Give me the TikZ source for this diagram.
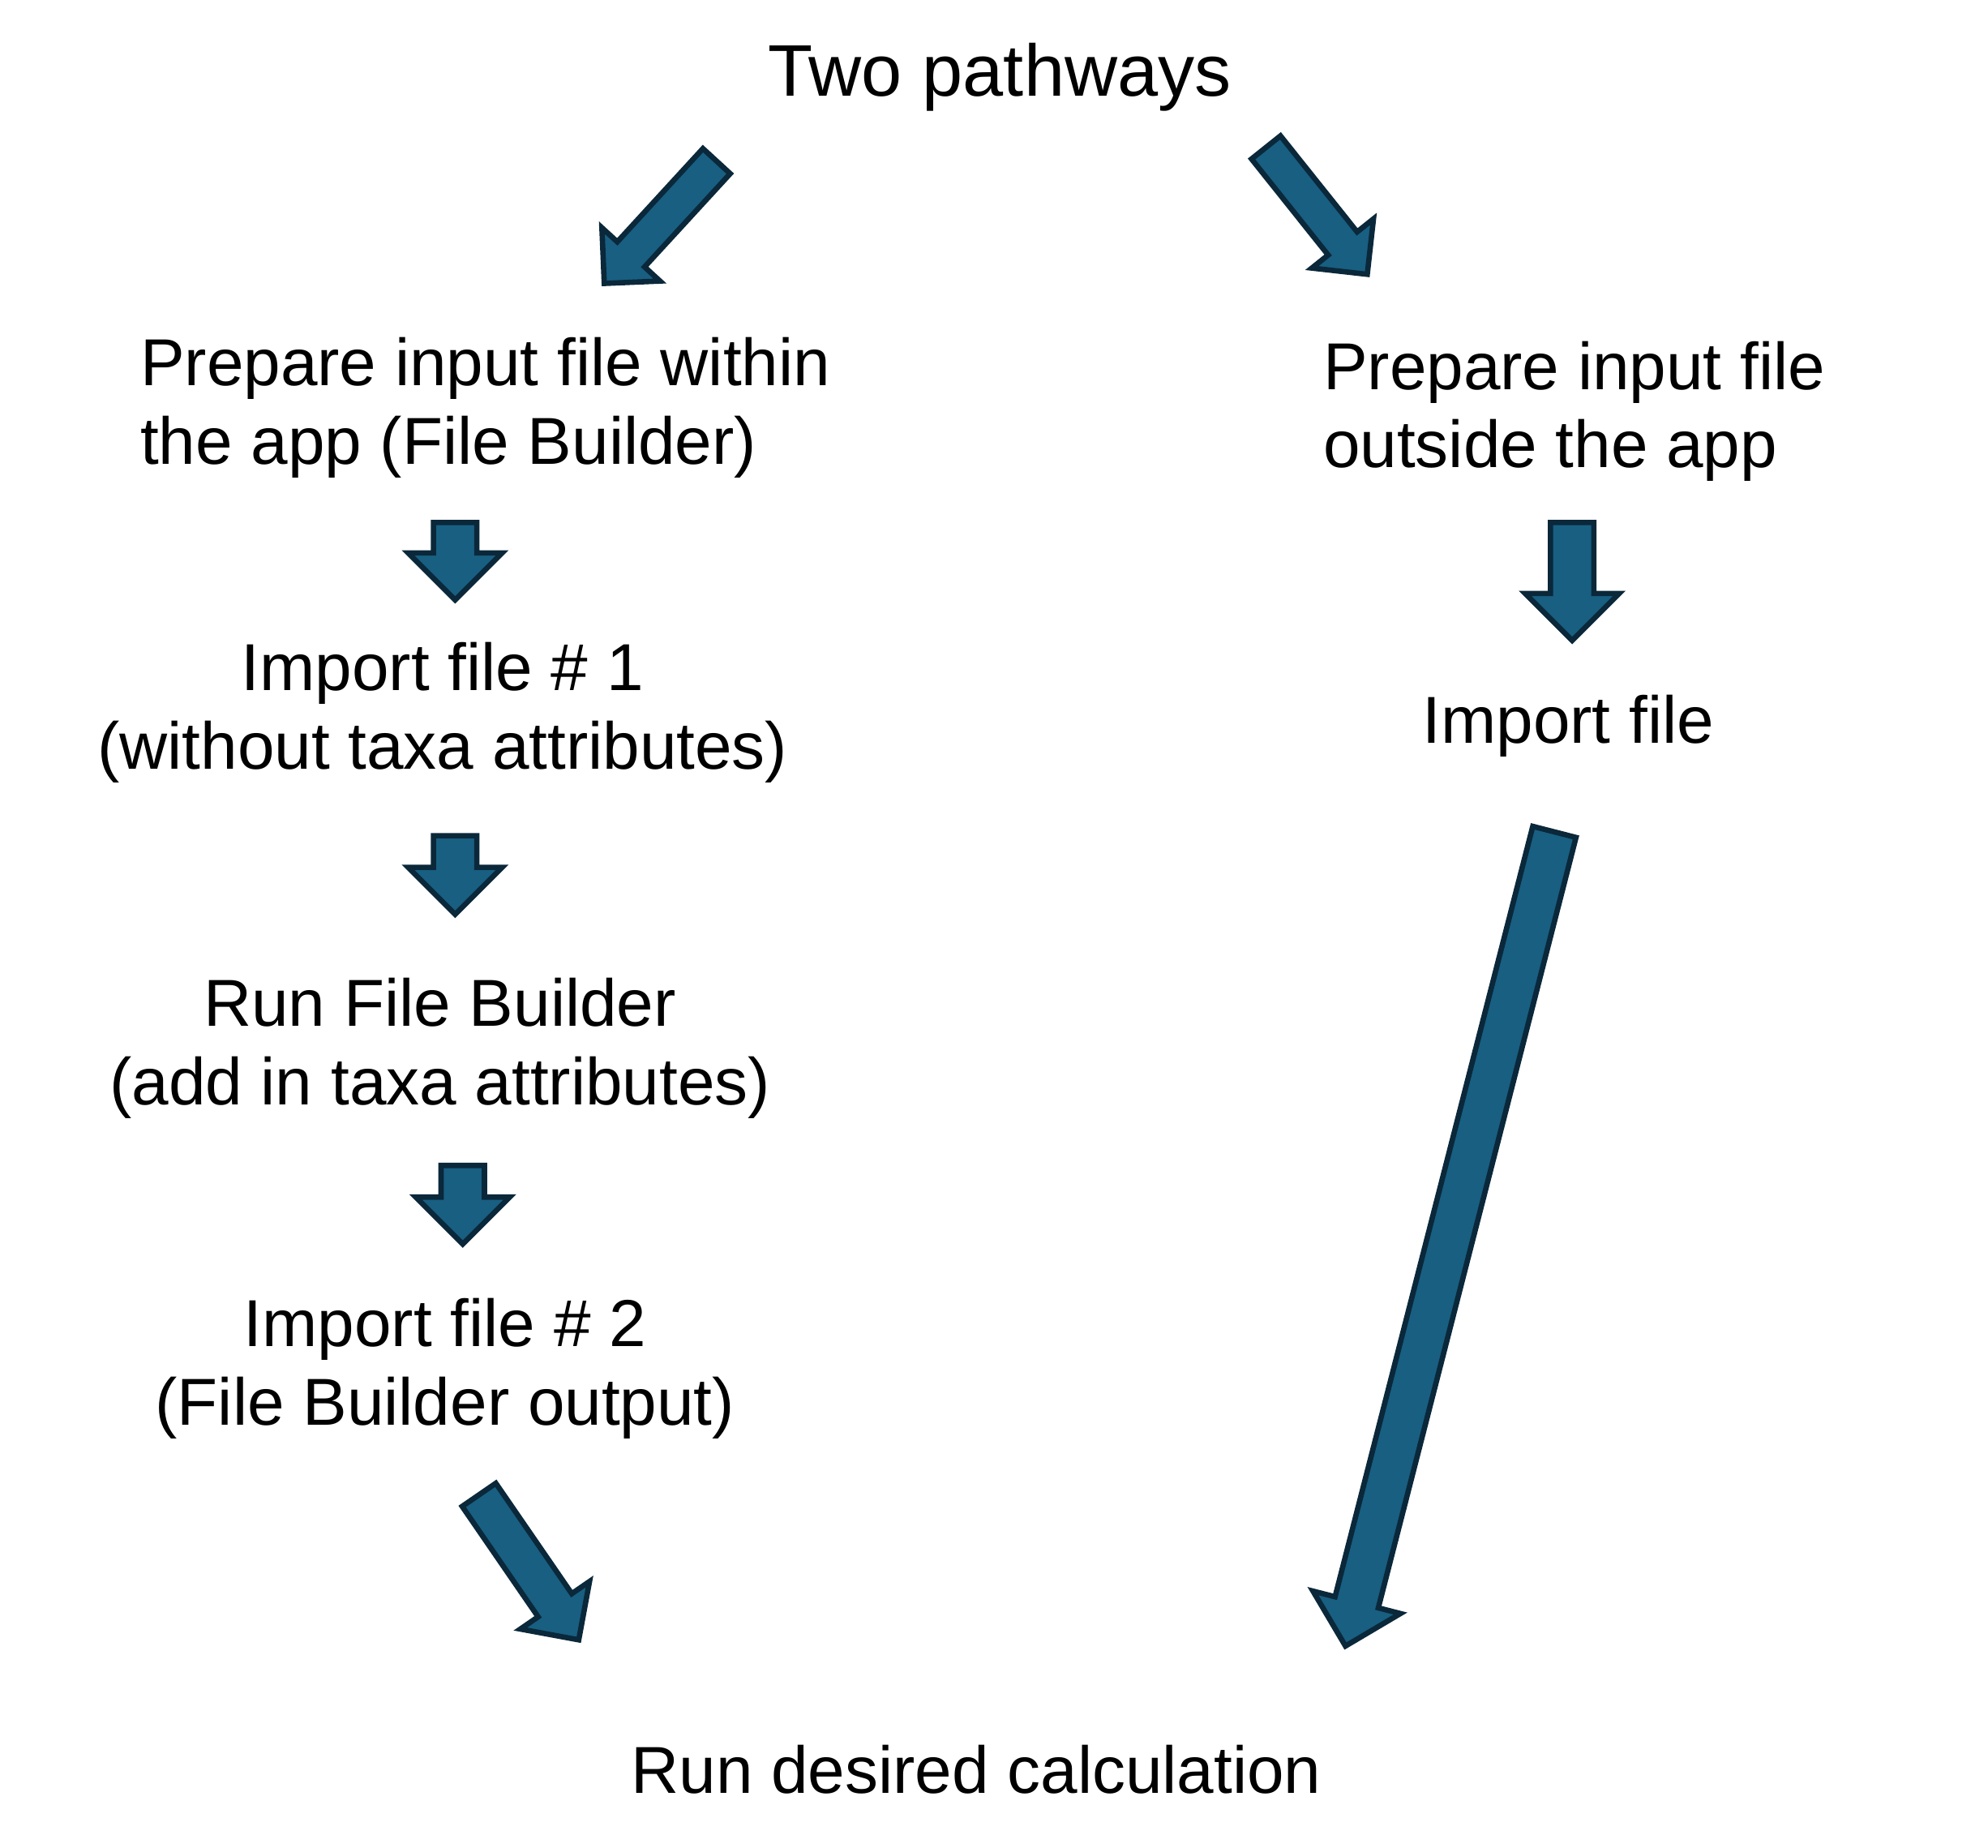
\documentclass[tikz,border=0pt]{standalone}
\usepackage{fontspec}
\setmainfont{Liberation Sans}
\usepackage{tikz}
\usetikzlibrary{positioning,calc}
\usetikzlibrary{shapes.arrows}
\usepackage{xcolor}
\definecolor{arrowfill}{RGB}{24,95,130}
\definecolor{arrowline}{RGB}{10,40,58}
\newcommand{\bodyfont}{\fontsize{14.9}{17.6}\selectfont}
\newcommand{\titlefont}{\fontsize{16.4}{19.7}\selectfont}
% block arrow from tail coordinate to tip coordinate
\newcommand{\flowarrow}[4][]{%
  \path let \p1=(#3), \p2=(#4), \n1={atan2(\y2-\y1,\x2-\x1)}, \n2={veclen(\x2-\x1,\y2-\y1)} in
    node[blockarrow, #1, rotate=\n1, minimum height=\n2, anchor=tail] (#2) at (#3) {};}

\begin{document}
\begin{tikzpicture}
  	\useasboundingbox (0,0) rectangle (15.68,14.57);
  	\tikzstyle{every node}=[font=\bodyfont, inner sep=0pt]
  	\tikzstyle{blockarrow}=[single arrow, draw=arrowline, fill=arrowfill, line width=1.2pt, inner xsep=0pt, inner ysep=0.15cm, single arrow head extend=0.2cm, single arrow tip angle=90]
  	\tikzstyle{thin arrow}=[inner ysep=0.125cm, single arrow head extend=0.165cm]
  	\draw (7.885,13.81) node (two_pathways) [anchor=base, font=\titlefont]{Two pathways};
  	\draw (1.10,11.355) node (prepare_within) [anchor=west, align=left]{Prepare input file within\\the app (File Builder)};
  	\draw (10.43,11.325) node (prepare_outside) [anchor=west, align=left]{Prepare input file\\outside the app};
  	\draw (3.49,8.95) node (import_1) [align=center]{Import file \# 1\\(without taxa attributes)};
  	\draw (3.47,6.305) node (run_builder) [align=center]{Run File Builder\\(add in taxa attributes)};
  	\draw (3.51,3.775) node (import_2) [align=center]{Import file \# 2\\(File Builder output)};
  	\draw (12.37,8.71) node (import_file) [anchor=base]{Import file};
  	\draw (7.70,0.43) node (run_calc) [anchor=base]{Run desired calculation};
  	% tails and tips of the block arrows
  	\coordinate (a1_tail) at (3.59,10.47);   \coordinate (a1_tip) at (3.59,9.86);
  	\coordinate (a2_tail) at (3.59,8.00);    \coordinate (a2_tip) at (3.59,7.38);
  	\coordinate (a3_tail) at (3.65,5.40);    \coordinate (a3_tip) at (3.65,4.78);
  	\coordinate (r1_tail) at (12.40,10.47);  \coordinate (r1_tip) at (12.40,9.54);
  	\coordinate (d1_tail) at (5.666,13.315); \coordinate (d1_tip) at (4.78,12.35);
  	\coordinate (d2_tail) at (9.972,13.424); \coordinate (d2_tip) at (10.771,12.423);
  	\coordinate (d3_tail) at (3.766,2.799);  \coordinate (d3_tip) at (4.553,1.655);
  	\coordinate (d4_tail) at (12.265,8.03);  \coordinate (d4_tip) at (10.617,1.609);
  	\flowarrow[thin arrow]{to_within}{d1_tail}{d1_tip}
  	\flowarrow[thin arrow]{to_outside}{d2_tail}{d2_tip}
  	\flowarrow{to_import_1}{a1_tail}{a1_tip}
  	\flowarrow{to_run_builder}{a2_tail}{a2_tip}
  	\flowarrow{to_import_2}{a3_tail}{a3_tip}
  	\flowarrow{to_import_file}{r1_tail}{r1_tip}
  	\flowarrow[inner ysep=0.14cm, single arrow head extend=0.17cm]{left_to_calc}{d3_tail}{d3_tip}
  	\flowarrow[inner ysep=0.155cm, single arrow head extend=0.18cm]{right_to_calc}{d4_tail}{d4_tip}
  \end{tikzpicture}
\end{document}
